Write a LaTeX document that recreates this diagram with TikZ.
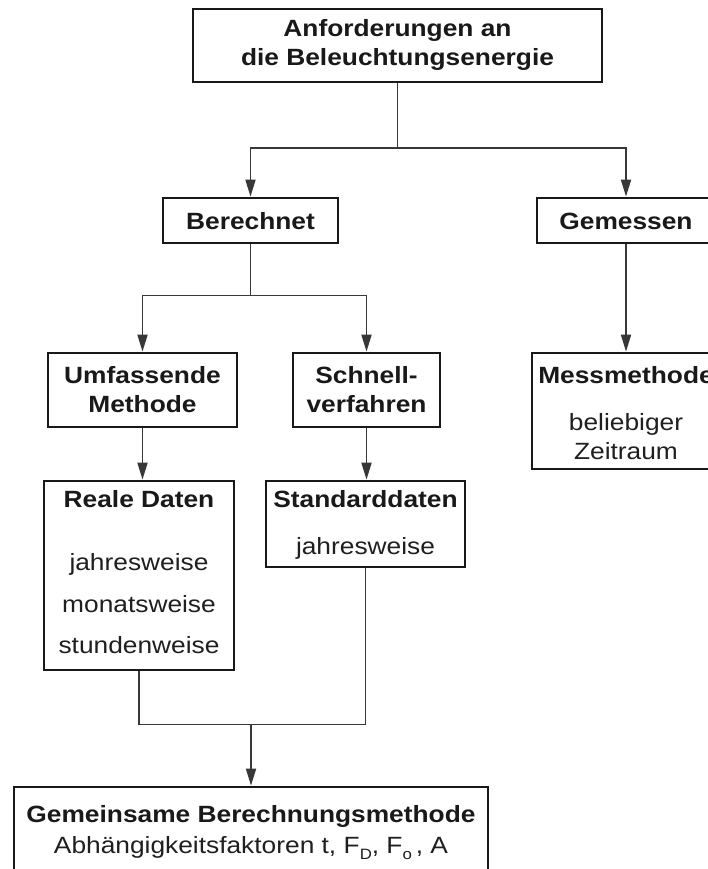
\documentclass[tikz,border=0pt]{standalone}
\usepackage{fontspec}
\setmainfont{Liberation Sans}[FakeStretch=1.12]
\usetikzlibrary{arrows.meta}
\newcommand{\subsc}[1]{\raisebox{-6pt}{\fontsize{15}{15}\selectfont #1}}
\begin{document}
\begin{tikzpicture}[x=1pt,y=-1pt,
  box/.style={draw=black!90, line width=2.8pt, inner sep=0pt, fill=none},
  tb/.style={anchor=base, inner sep=0pt, text=black!90, font=\bfseries\fontsize{23.5}{28}\selectfont},
  tr/.style={anchor=base, inner sep=0pt, text=black!88, font=\fontsize{23.5}{28}\selectfont},
  conn/.style={draw=black!78, line width=1.8pt},
  arr/.style={conn, -{Triangle[length=17pt,width=10pt]}}]
\fill[white] (0,0) rectangle (708,869);
\clip (0,0) rectangle (708,869);
% boxes
\node[box, minimum width=409pt, minimum height=73pt] (top) at (397.5,45.5) {};
\node[box, minimum width=175pt, minimum height=45pt] (ber) at (250.5,220.5) {};
\node[box, minimum width=178pt, minimum height=45pt] (gem) at (626,220.5) {};
\node[box, minimum width=189pt, minimum height=74pt] (umf) at (142.5,390) {};
\node[box, minimum width=147pt, minimum height=74pt] (sch) at (366.5,390) {};
\node[box, minimum width=188pt, minimum height=116pt] (mess) at (626,411) {};
\node[box, minimum width=190pt, minimum height=189pt] (real) at (139,575.5) {};
\node[box, minimum width=199pt, minimum height=86pt] (std) at (365.5,524) {};
\node[box, minimum width=474pt, minimum height=120pt] (bot) at (251,847) {};
% texts
\node[tb] (top1) at (397.5,37) {Anforderungen an};
\node[tb] (top2) at (397.5,66) {die Beleuchtungsenergie};
\node[tb] (bert) at (250.5,229) {Berechnet};
\node[tb] (gemt) at (626,229) {Gemessen};
\node[tb] (umf1) at (142.5,383) {Umfassende};
\node[tb] (umf2) at (142.5,412) {Methode};
\node[tb] (sch1) at (366.5,383) {Schnell-};
\node[tb] (sch2) at (366.5,412) {verfahren};
\node[tb] (mess1) at (626,383) {Messmethode};
\node[tr] (mess2) at (626,430) {beliebiger};
\node[tr] (mess3) at (626,459) {Zeitraum};
\node[tb] (real1) at (139,507) {Reale Daten};
\node[tr] (real2) at (139,570) {jahresweise};
\node[tr] (real3) at (139,612) {monatsweise};
\node[tr] (real4) at (139,653) {stundenweise};
\node[tb] (std1) at (365.5,507) {Standarddaten};
\node[tr] (std2) at (365.5,554) {jahresweise};
\node[tb] (bot1) at (251,822) {Gemeinsame Berechnungsmethode};
\node[tr] (bot2) at (251,853) {Abhängigkeitsfaktoren t, F\subsc{D}, F\subsc{o}\,, A};
% connectors
\draw[conn] (top.south) -- ++(0,65) coordinate (j1);
\draw[arr] (j1) -| (ber.north);
\draw[arr] (j1) -| (gem.north);
\draw[conn] (ber.south) -- ++(0,51) coordinate (j2);
\draw[arr] (j2) -| (umf.north);
\draw[arr] (j2) -| (sch.north);
\draw[arr] (gem.south) -- (gem.south |- mess.north);
\draw[arr] (umf.south) -- (umf.south |- real.north);
\draw[arr] (sch.south) -- (sch.south |- std.north);
\draw[conn] (real.south) -- ++(0,53) coordinate (j3) -- (j3 -| std.south) -- (std.south);
\draw[arr] (j3 -| bot.north) -- (bot.north);
\end{tikzpicture}
\end{document}
